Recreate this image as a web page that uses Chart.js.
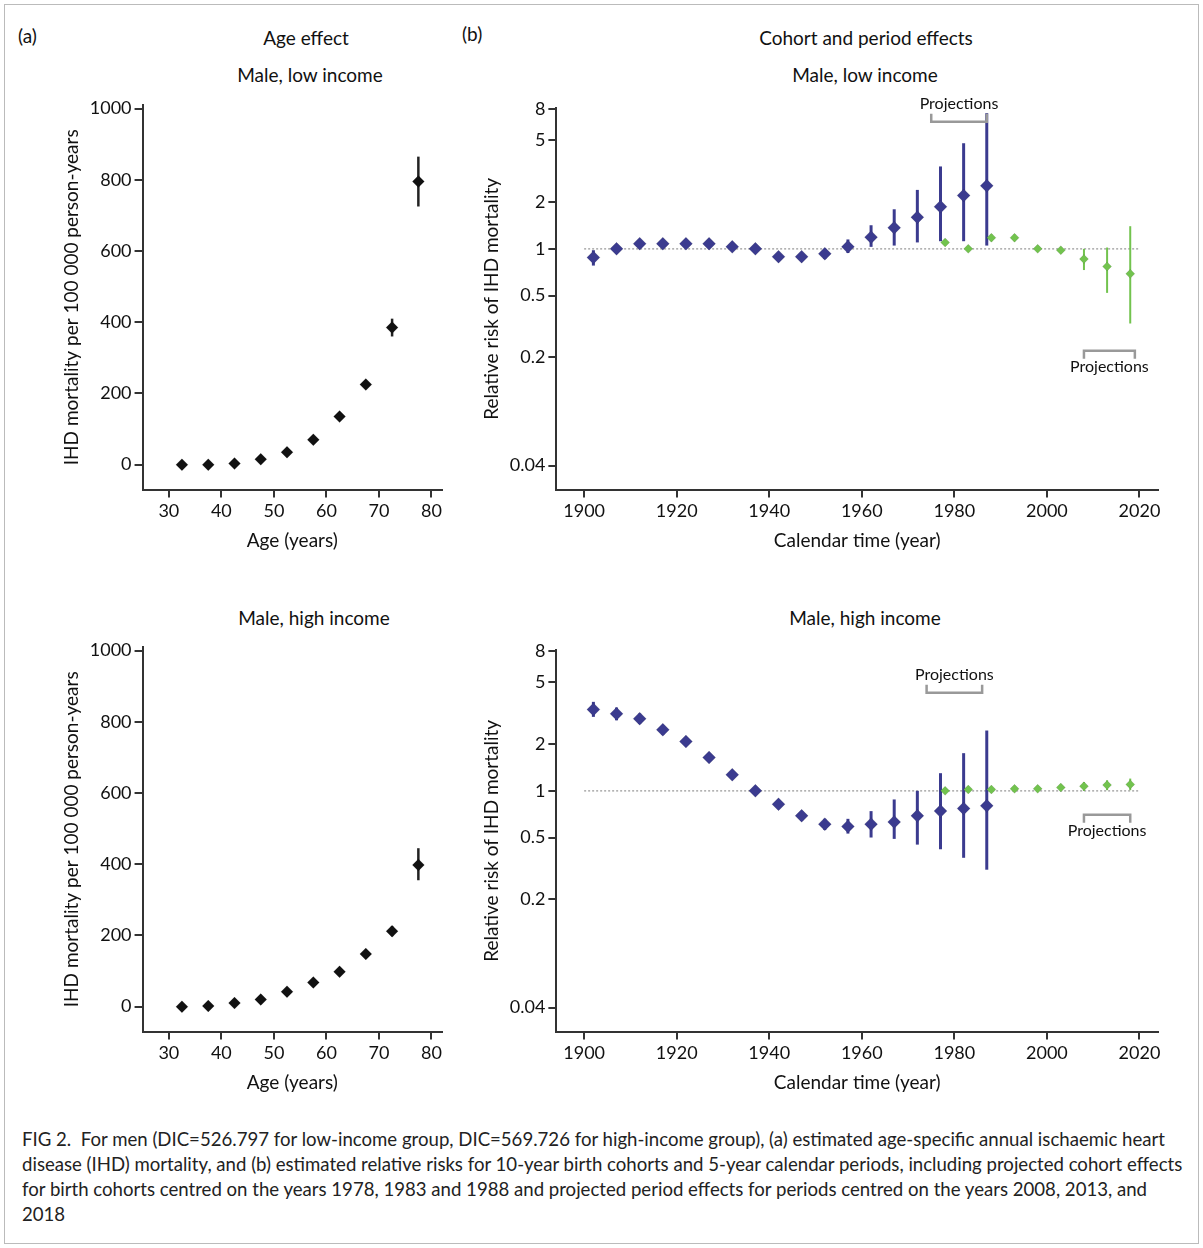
<!DOCTYPE html>
<html>
<head>
<meta charset="utf-8">
<script src="https://cdn.jsdelivr.net/npm/chart.js@4"></script>
<style>
  body { margin: 0; background: #fff; font-family: Lato, "Open Sans", sans-serif; }
  #frame { position: absolute; left: 4px; top: 4px; width: 1193px; height: 1238px; border: 1px solid #bbb; }
  .lbl { position: absolute; font-size: 19px; color: #111; white-space: nowrap; }
  .ctr { position: absolute; font-size: 19px; color: #111; white-space: nowrap; transform: translateX(-50%); }
  .c { position: absolute; }
  #cap { position: absolute; left: 22px; top: 1127px; width: 1165px; font-size: 18.6px; line-height: 25px; color: #222; }
</style>
</head>
<body>
<div id="frame"></div>
<div class="lbl" style="left:18px;top:24px">(a)</div>
<div class="ctr" style="left:306px;top:26px">Age effect</div>
<div class="lbl" style="left:462px;top:22px">(b)</div>
<div class="ctr" style="left:866px;top:26px">Cohort and period effects</div>
<div class="ctr" style="left:310px;top:63px">Male, low income</div>
<div class="ctr" style="left:865px;top:63px">Male, low income</div>
<div class="ctr" style="left:314px;top:606px">Male, high income</div>
<div class="ctr" style="left:865px;top:606px">Male, high income</div>
<div class="c" style="left:56px;top:58px;width:396px;height:498px"><canvas id="a1"></canvas></div>
<div class="c" style="left:476px;top:56px;width:712px;height:500px"><canvas id="b1"></canvas></div>
<div class="c" style="left:56px;top:600px;width:396px;height:498px"><canvas id="a2"></canvas></div>
<div class="c" style="left:476px;top:598px;width:712px;height:500px"><canvas id="b2"></canvas></div>
<div id="cap">FIG 2.&nbsp; For men (DIC=526.797 for low-income group, DIC=569.726 for high-income group), (a) estimated age-specific annual ischaemic heart disease (IHD) mortality, and (b) estimated relative risks for 10-year birth cohorts and 5-year calendar periods, including projected cohort effects for birth cohorts centred on the years 1978, 1983 and 1988 and projected period effects for periods centred on the years 2008, 2013, and 2018</div>
<script>
// age effect
const ages = [32.5, 37.5, 42.5, 47.5, 52.5, 57.5, 62.5, 67.5, 72.5, 77.5];
const ageLow = [0, 0, 3, 15, 35, 70, 135, 225, 385, 795];
const ageLowLo = [0, 0, 0, 10, 30, 63, 127, 215, 360, 725];
const ageLowHi = [5, 5, 8, 20, 40, 77, 143, 235, 410, 865];
const ageHigh = [0, 2, 10, 20, 42, 68, 98, 148, 212, 398];
const ageHighLo = [0, 0, 5, 15, 37, 62, 92, 140, 198, 355];
const ageHighHi = [4, 6, 15, 25, 47, 74, 104, 156, 226, 445];

// cohort and period effects
const cohorts = [1902, 1907, 1912, 1917, 1922, 1927, 1932, 1937, 1942, 1947, 1952, 1957, 1962, 1967, 1972, 1977, 1982, 1987];
const cohLow = [0.88, 1.0, 1.08, 1.08, 1.08, 1.08, 1.03, 1.0, 0.89, 0.89, 0.93, 1.03, 1.19, 1.37, 1.6, 1.87, 2.21, 2.55];
const cohLowLo = [0.78, 0.93, 1.02, 1.03, 1.03, 1.03, 0.98, 0.95, 0.84, 0.84, 0.86, 0.94, 1.03, 1.05, 1.1, 1.12, 1.12, 1.05];
const cohLowHi = [0.98, 1.06, 1.14, 1.13, 1.13, 1.13, 1.08, 1.05, 0.94, 0.94, 1.0, 1.15, 1.42, 1.8, 2.4, 3.4, 4.8, 7.5];
const cohHigh = [3.35, 3.14, 2.92, 2.48, 2.08, 1.64, 1.27, 1.0, 0.82, 0.69, 0.61, 0.59, 0.61, 0.63, 0.69, 0.74, 0.77, 0.8];
const cohHighLo = [3.0, 2.85, 2.7, 2.3, 1.95, 1.55, 1.2, 0.96, 0.78, 0.64, 0.56, 0.53, 0.5, 0.49, 0.45, 0.42, 0.37, 0.31];
const cohHighHi = [3.75, 3.45, 3.15, 2.65, 2.2, 1.74, 1.34, 1.04, 0.86, 0.74, 0.66, 0.66, 0.74, 0.88, 1.0, 1.3, 1.75, 2.45];
const periods = [1978, 1983, 1988, 1993, 1998, 2003, 2008, 2013, 2018];
const perLow = [1.1, 1.0, 1.18, 1.18, 1.0, 0.98, 0.86, 0.77, 0.69];
const perLowLo = [1.05, 0.96, 1.12, 1.12, 0.96, 0.94, 0.73, 0.52, 0.33];
const perLowHi = [1.15, 1.04, 1.24, 1.24, 1.04, 1.02, 1.0, 1.02, 1.4];
const perHigh = [1.0, 1.02, 1.02, 1.03, 1.03, 1.05, 1.07, 1.09, 1.1];
const perHighLo = [0.97, 0.98, 0.98, 0.99, 0.99, 1.0, 1.0, 1.01, 1.01];
const perHighHi = [1.03, 1.06, 1.06, 1.07, 1.07, 1.1, 1.14, 1.17, 1.2];

const ageTicks = [30, 40, 50, 60, 70, 80];
const mortTicks = [0, 200, 400, 600, 800, 1000];
const yearTicks = [1900, 1920, 1940, 1960, 1980, 2000, 2020];
const rrTicks = [0.04, 0.2, 0.5, 1, 2, 5, 8];

const FONT = 'Lato, "Open Sans", sans-serif';
Chart.defaults.font.family = FONT;
Chart.defaults.color = '#111';
const BLUE = '#3b3b8f', GREEN = '#72c34e';

const pts = (xs, ys) => xs.map((x, i) => ({ x: x, y: ys[i] }));

const errorBars = {
  id: 'errorBars',
  beforeDatasetsDraw(chart) {
    const { ctx, scales: { x, y } } = chart;
    chart.data.datasets.forEach(ds => {
      if (!ds.lo) return;
      ctx.save();
      ctx.strokeStyle = ds.barColor || ds.backgroundColor;
      ctx.lineWidth = ds.barWidth || 2.5;
      ds.data.forEach((p, i) => {
        const px = x.getPixelForValue(p.x);
        ctx.beginPath();
        ctx.moveTo(px, y.getPixelForValue(ds.lo[i]));
        ctx.lineTo(px, y.getPixelForValue(ds.hi[i]));
        ctx.stroke();
      });
      ctx.restore();
    });
  }
};

const refLine = {
  id: 'refLine',
  beforeDatasetsDraw(chart, args, opts) {
    if (!opts.on) return;
    const { ctx, scales: { x, y } } = chart;
    const py = y.getPixelForValue(1);
    ctx.save();
    ctx.strokeStyle = '#aaa';
    ctx.lineWidth = 1.5;
    ctx.setLineDash([2, 2]);
    ctx.beginPath();
    ctx.moveTo(x.getPixelForValue(1900), py);
    ctx.lineTo(x.getPixelForValue(2020), py);
    ctx.stroke();
    ctx.restore();
  }
};

const brackets = {
  id: 'brackets',
  afterDatasetsDraw(chart, args, opts) {
    if (!opts.list) return;
    const { ctx, scales: { x, y } } = chart;
    ctx.save();
    ctx.strokeStyle = '#999';
    ctx.lineWidth = 2.5;
    ctx.fillStyle = '#111';
    ctx.font = '16px ' + FONT;
    ctx.textAlign = 'center';
    opts.list.forEach(b => {
      const x0 = x.getPixelForValue(b.x0), x1 = x.getPixelForValue(b.x1);
      const py = y.getPixelForValue(b.y);
      const d = b.down ? 8 : -8;
      ctx.beginPath();
      ctx.moveTo(x0, py - d);
      ctx.lineTo(x0, py);
      ctx.lineTo(x1, py);
      ctx.lineTo(x1, py - d);
      ctx.stroke();
      ctx.textBaseline = b.down ? 'bottom' : 'top';
      ctx.fillText('Projections', (x0 + x1) / 2, py + (b.down ? -10 : 8));
    });
    ctx.restore();
  }
};

function axisCommon(title, ticks) {
  return {
    title: { display: true, text: title, font: { size: 19 }, color: '#111' },
    grid: { drawOnChartArea: false, drawTicks: true, tickLength: 8, color: '#333', lineWidth: 2 },
    border: { color: '#333', width: 2 },
    ticks: { font: { size: 18 }, color: '#111', autoSkip: false, callback: v => String(v) },
    afterBuildTicks: s => { s.ticks = ticks.map(v => ({ value: v })); }
  };
}

function ageChart(id, ys, lo, hi) {
  const xs = axisCommon('Age (years)', ageTicks);
  xs.min = 25; xs.max = 82;
  const yy = axisCommon('IHD mortality per 100 000 person-years', mortTicks);
  yy.min = -70; yy.max = 1010;
  new Chart(document.getElementById(id), {
    type: 'scatter',
    data: { datasets: [{ data: pts(ages, ys), lo: lo, hi: hi, backgroundColor: '#111', pointRadius: 6, pointStyle: 'rectRot', barColor: '#222' }] },
    options: {
      responsive: true, maintainAspectRatio: false, animation: false,
      layout: { padding: { top: 47, right: 10 } },
      plugins: { legend: { display: false }, tooltip: { enabled: false } },
      scales: { x: xs, y: yy }
    },
    plugins: [errorBars]
  });
}

function rrChart(id, cy, clo, chi, py, plo, phi, br) {
  const xs = axisCommon('Calendar time (year)', yearTicks);
  xs.min = 1894; xs.max = 2024;
  const yy = axisCommon('Relative risk of IHD mortality', rrTicks);
  yy.type = 'logarithmic'; yy.min = 0.028; yy.max = 8.1;
  new Chart(document.getElementById(id), {
    type: 'scatter',
    data: { datasets: [
      { data: pts(periods, py), lo: plo, hi: phi, backgroundColor: GREEN, pointRadius: 4.5, pointStyle: 'rectRot', barWidth: 2 },
      { data: pts(cohorts, cy), lo: clo, hi: chi, backgroundColor: BLUE, pointRadius: 6.5, pointStyle: 'rectRot', barWidth: 3 }
    ] },
    options: {
      responsive: true, maintainAspectRatio: false, animation: false,
      layout: { padding: { top: 52, right: 30 } },
      plugins: { legend: { display: false }, tooltip: { enabled: false },
        refLine: { on: true }, brackets: { list: br } },
      scales: { x: xs, y: yy }
    },
    plugins: [refLine, errorBars, brackets]
  });
}

ageChart('a1', ageLow, ageLowLo, ageLowHi);
ageChart('a2', ageHigh, ageHighLo, ageHighHi);
rrChart('b1', cohLow, cohLowLo, cohLowHi, perLow, perLowLo, perLowHi,
  [{ x0: 1975, x1: 1987, y: 6.6, down: true }, { x0: 2008, x1: 2019, y: 0.22, down: false }]);
rrChart('b2', cohHigh, cohHighLo, cohHighHi, perHigh, perHighLo, perHighHi,
  [{ x0: 1974, x1: 1986, y: 4.3, down: true }, { x0: 2008, x1: 2018, y: 0.7, down: false }]);
</script>
</body>
</html>
